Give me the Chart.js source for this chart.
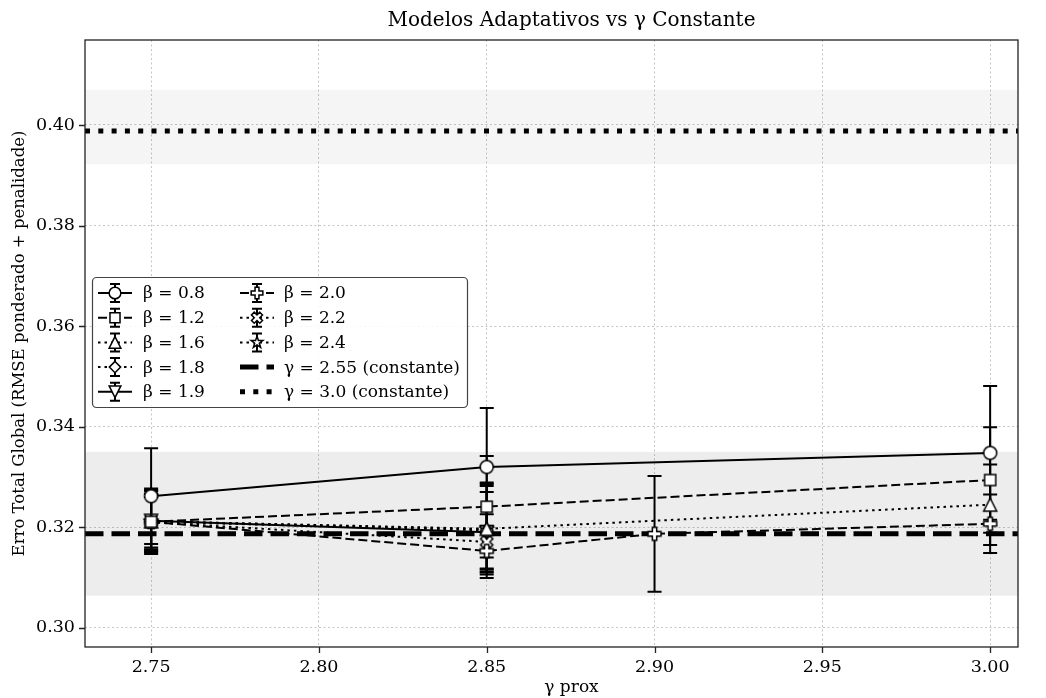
<!DOCTYPE html>
<html>
<head>
<meta charset="utf-8">
<script src="https://cdn.jsdelivr.net/npm/chart.js@4.4.1/dist/chart.umd.min.js"></script>
<style>
  body { margin: 0; background: #fff; }
  #wrap { width: 1046px; height: 698px; }
</style>
</head>
<body>
<div id="wrap"><canvas id="myChart" width="1046" height="698"></canvas></div>
<script>
// values
var xTicks = [2.75, 2.80, 2.85, 2.90, 2.95, 3.00];
var yTicks = [0.30, 0.32, 0.34, 0.36, 0.38, 0.40];
var xMin = 2.7303, xMax = 3.0083;
var yMin = 0.2962, yMax = 0.4169;

var b08_x = [2.75, 2.85, 3.00];
var b08_y = [0.3262, 0.3320, 0.3348];
var b08_err = [0.0095, 0.0117, 0.0133];

var b12_x = [2.75, 2.85, 3.00];
var b12_y = [0.3211, 0.3241, 0.3294];
var b12_err = [0.0060, 0.0101, 0.0105];

var b16_x = [2.75, 2.85, 3.00];
var b16_y = [0.3212, 0.3197, 0.3245];
var b16_err = [0.0065, 0.0085, 0.0080];

var b18_x = [2.75, 2.85];
var b18_y = [0.3211, 0.3194];
var b18_err = [0.0055, 0.0095];

var b19_x = [2.75, 2.85];
var b19_y = [0.3213, 0.3190];
var b19_err = [0.0060, 0.0080];

var b20_x = [2.75, 2.85, 2.90, 3.00];
var b20_y = [0.3211, 0.3153, 0.3187, 0.3207];
var b20_err = [0.0055, 0.0035, 0.0115, 0.0058];

var b22_x = [2.75, 2.85];
var b22_y = [0.3210, 0.3171];
var b22_err = [0.0050, 0.0055];

var b24_x = [2.75, 2.85];
var b24_y = [0.3212, 0.3196];
var b24_err = [0.0062, 0.0090];

var constLabels = ['γ = 2.55 (constante)', 'γ = 3.0 (constante)'];
var constValues = [0.3187, 0.3988];
var bandLow = [0.3064, 0.3922];
var bandHigh = [0.3350, 0.4070];

Chart.defaults.font.family = '"DejaVu Serif", serif';
Chart.defaults.color = '#000';

// marker drawing (matplotlib-like shapes, white face, black edge)
function markerPath(c, kind, x, y, r) {
    c.beginPath();
    if (kind == 'circle') {
        c.arc(x, y, r, 0, Math.PI * 2);
    } else if (kind == 'square') {
        c.rect(x - r * 0.9, y - r * 0.9, r * 1.8, r * 1.8);
    } else if (kind == 'triUp' || kind == 'triDown') {
        var s = kind == 'triUp' ? 1 : -1;
        c.moveTo(x, y - s * r);
        c.lineTo(x + r, y + s * r);
        c.lineTo(x - r, y + s * r);
        c.closePath();
    } else if (kind == 'diamond') {
        var d = r * 1.05;
        c.moveTo(x, y - d); c.lineTo(x + d, y); c.lineTo(x, y + d); c.lineTo(x - d, y);
        c.closePath();
    } else if (kind == 'plus' || kind == 'xfill') {
        var pts = [[-1,-3],[1,-3],[1,-1],[3,-1],[3,1],[1,1],[1,3],[-1,3],[-1,1],[-3,1],[-3,-1],[-1,-1]];
        var a = kind == 'xfill' ? Math.PI / 4 : 0;
        pts.forEach(function(p, i) {
            var px = p[0] * r / 3, py = p[1] * r / 3;
            var qx = px * Math.cos(a) - py * Math.sin(a);
            var qy = px * Math.sin(a) + py * Math.cos(a);
            if (i == 0) c.moveTo(x + qx, y + qy); else c.lineTo(x + qx, y + qy);
        });
        c.closePath();
    } else if (kind == 'star') {
        for (var i = 0; i < 10; i++) {
            var rr = i % 2 == 0 ? r * 1.05 : r * 0.42;
            var ang = -Math.PI / 2 + i * Math.PI / 5;
            if (i == 0) c.moveTo(x + rr * Math.cos(ang), y + rr * Math.sin(ang));
            else c.lineTo(x + rr * Math.cos(ang), y + rr * Math.sin(ang));
        }
        c.closePath();
    }
}

function drawMarker(c, kind, x, y, r) {
    markerPath(c, kind, x, y, r);
    c.fillStyle = '#fff';
    c.fill();
    c.lineWidth = 1.5;
    c.strokeStyle = '#000';
    c.setLineDash([]);
    c.stroke();
}

function markerCanvas(kind, r) {
    var cv = document.createElement('canvas');
    var size = Math.ceil(r * 2 + 6);
    cv.width = size; cv.height = size;
    drawMarker(cv.getContext('2d'), kind, size / 2, size / 2, r);
    return cv;
}

var DASHED = [9, 4];
var DOTTED = [2.5, 4];

function makeSeries(label, xs, ys, errs, kind, dash) {
    var r = kind == 'diamond' ? 6 : (kind == 'square' ? 6.2 : 6.5);
    return {
        label: label,
        data: xs.map(function(v, i) { return { x: v, y: ys[i] }; }),
        err: errs,
        marker: kind,
        markerR: r,
        showLine: true,
        borderColor: '#000',
        backgroundColor: '#fff',
        borderWidth: 2,
        borderDash: dash,
        pointStyle: markerCanvas(kind, r),
        pointRadius: 7,
        pointHoverRadius: 7
    };
}

var datasets = [
    makeSeries('β = 0.8', b08_x, b08_y, b08_err, 'circle', []),
    makeSeries('β = 1.2', b12_x, b12_y, b12_err, 'square', DASHED),
    makeSeries('β = 1.6', b16_x, b16_y, b16_err, 'triUp', DOTTED),
    makeSeries('β = 1.8', b18_x, b18_y, b18_err, 'diamond', DOTTED),
    makeSeries('β = 1.9', b19_x, b19_y, b19_err, 'triDown', []),
    makeSeries('β = 2.0', b20_x, b20_y, b20_err, 'plus', DASHED),
    makeSeries('β = 2.2', b22_x, b22_y, b22_err, 'xfill', DOTTED),
    makeSeries('β = 2.4', b24_x, b24_y, b24_err, 'star', DOTTED)
];

var constDash = [[18.5, 8], [5, 8.3]];
constValues.forEach(function(v, i) {
    datasets.push({
        label: constLabels[i],
        data: [{ x: xMin, y: v }, { x: xMax, y: v }],
        showLine: true,
        borderColor: '#000',
        borderWidth: 5,
        borderDash: constDash[i],
        borderCapStyle: 'butt',
        pointRadius: 0,
        pointHoverRadius: 0
    });
});

var bandColors = ['rgba(0,0,0,0.07)', 'rgba(0,0,0,0.04)'];
var FONT = '17px "DejaVu Serif"';

var extras = {
    id: 'extras',
    beforeDatasetsDraw: function(chart) {
        var c = chart.ctx, xs = chart.scales.x, ys = chart.scales.y, a = chart.chartArea;
        c.save();
        c.beginPath();
        c.rect(a.left, a.top, a.right - a.left, a.bottom - a.top);
        c.clip();
        for (var i = 0; i < bandLow.length; i++) {
            var t = ys.getPixelForValue(bandHigh[i]);
            var b = ys.getPixelForValue(bandLow[i]);
            c.fillStyle = bandColors[i];
            c.fillRect(a.left, t, a.right - a.left, b - t);
        }
        // error bars
        c.strokeStyle = '#000';
        c.lineWidth = 2;
        c.setLineDash([]);
        chart.data.datasets.forEach(function(ds) {
            if (!ds.err) return;
            ds.data.forEach(function(p, k) {
                var px = xs.getPixelForValue(p.x);
                var y1 = ys.getPixelForValue(p.y + ds.err[k]);
                var y2 = ys.getPixelForValue(p.y - ds.err[k]);
                c.beginPath();
                c.moveTo(px, y1); c.lineTo(px, y2);
                c.moveTo(px - 7, y1); c.lineTo(px + 7, y1);
                c.moveTo(px - 7, y2); c.lineTo(px + 7, y2);
                c.stroke();
            });
        });
        c.restore();
    },
    afterDraw: function(chart) {
        var c = chart.ctx, xs = chart.scales.x, ys = chart.scales.y, a = chart.chartArea;
        c.save();
        // frame + tick marks
        c.strokeStyle = '#222';
        c.lineWidth = 1.3;
        c.setLineDash([]);
        c.strokeRect(a.left, a.top, a.right - a.left, a.bottom - a.top);
        c.beginPath();
        xTicks.forEach(function(v) {
            var px = Math.round(xs.getPixelForValue(v)) + 0.5;
            c.moveTo(px, a.bottom); c.lineTo(px, a.bottom + 6);
        });
        yTicks.forEach(function(v) {
            var py = Math.round(ys.getPixelForValue(v)) + 0.5;
            c.moveTo(a.left - 6, py); c.lineTo(a.left, py);
        });
        c.stroke();

        // title and x label (the reference centres them a bit right of the plot centre)
        var midX = (a.left + a.right) / 2 + 20;
        c.fillStyle = '#000';
        c.font = '20px "DejaVu Serif"';
        c.textAlign = 'center';
        c.textBaseline = 'middle';
        c.fillText('Modelos Adaptativos vs γ Constante', midX, 21);
        c.font = FONT;
        c.fillText('γ prox', midX, 688);

        // legend
        var lx = 92.5, ly = 277.5, lw = 375, lh = 130;
        c.beginPath();
        c.roundRect(lx, ly, lw, lh, 4);
        c.fillStyle = 'rgba(255,255,255,0.85)';
        c.fill();
        c.strokeStyle = '#444';
        c.lineWidth = 1.2;
        c.stroke();

        var cols = [{ hx: 98, tx: 143 }, { hx: 240, tx: 284 }];
        var rowY0 = 293, rowStep = 24.7;
        c.font = FONT;
        c.textAlign = 'left';
        chart.data.datasets.forEach(function(ds, i) {
            var col = cols[Math.floor(i / 5)];
            var y = rowY0 + (i % 5) * rowStep;
            var x0 = col.hx, x1 = col.hx + 34, xm = (x0 + x1) / 2;
            c.strokeStyle = '#000';
            c.lineWidth = ds.borderWidth;
            c.lineCap = 'butt';
            c.setLineDash(ds.borderDash || []);
            c.beginPath();
            c.moveTo(x0, y); c.lineTo(x1, y);
            c.stroke();
            c.setLineDash([]);
            if (ds.err) {
                c.lineWidth = 2;
                c.beginPath();
                c.moveTo(xm, y - 9); c.lineTo(xm, y + 9);
                c.moveTo(xm - 5, y - 9); c.lineTo(xm + 5, y - 9);
                c.moveTo(xm - 5, y + 9); c.lineTo(xm + 5, y + 9);
                c.stroke();
                drawMarker(c, ds.marker, xm, y, ds.markerR * 0.9);
            }
            c.fillStyle = '#000';
            c.textBaseline = 'middle';
            c.fillText(ds.label, col.tx, y + 1);
        });
        c.restore();
    }
};

new Chart(document.getElementById('myChart'), {
    type: 'scatter',
    data: { datasets: datasets },
    options: {
        responsive: false,
        animation: false,
        devicePixelRatio: 1,
        layout: { padding: { left: 0, right: 28, top: 40, bottom: 0 } },
        plugins: {
            legend: { display: false },
            tooltip: { enabled: false }
        },
        scales: {
            x: {
                type: 'linear',
                min: xMin,
                max: xMax,
                afterBuildTicks: function(scale) {
                    scale.ticks = xTicks.map(function(v) { return { value: v }; });
                },
                afterFit: function(scale) { scale.height = 51; },
                ticks: {
                    padding: 10,
                    maxRotation: 0,
                    font: { size: 17.5 },
                    callback: function(v) { return Number(v).toFixed(2); }
                },
                grid: { color: '#b8b8b8', lineWidth: 0.8, drawTicks: false },
                border: { display: false, dash: [2, 2.5] },
                title: { display: false }
            },
            y: {
                type: 'linear',
                min: yMin,
                max: yMax,
                afterBuildTicks: function(scale) {
                    scale.ticks = yTicks.map(function(v) { return { value: v }; });
                },
                afterFit: function(scale) { scale.width = 85; },
                ticks: {
                    padding: 10,
                    font: { size: 17.5 },
                    callback: function(v) { return Number(v).toFixed(2); }
                },
                grid: { color: '#b8b8b8', lineWidth: 0.8, drawTicks: false },
                border: { display: false, dash: [2, 2.5] },
                title: { display: true, text: 'Erro Total Global (RMSE ponderado + penalidade)', font: { size: 16.5 }, padding: { top: 10, bottom: 0 } }
            }
        }
    },
    plugins: [extras]
});
</script>
</body>
</html>
